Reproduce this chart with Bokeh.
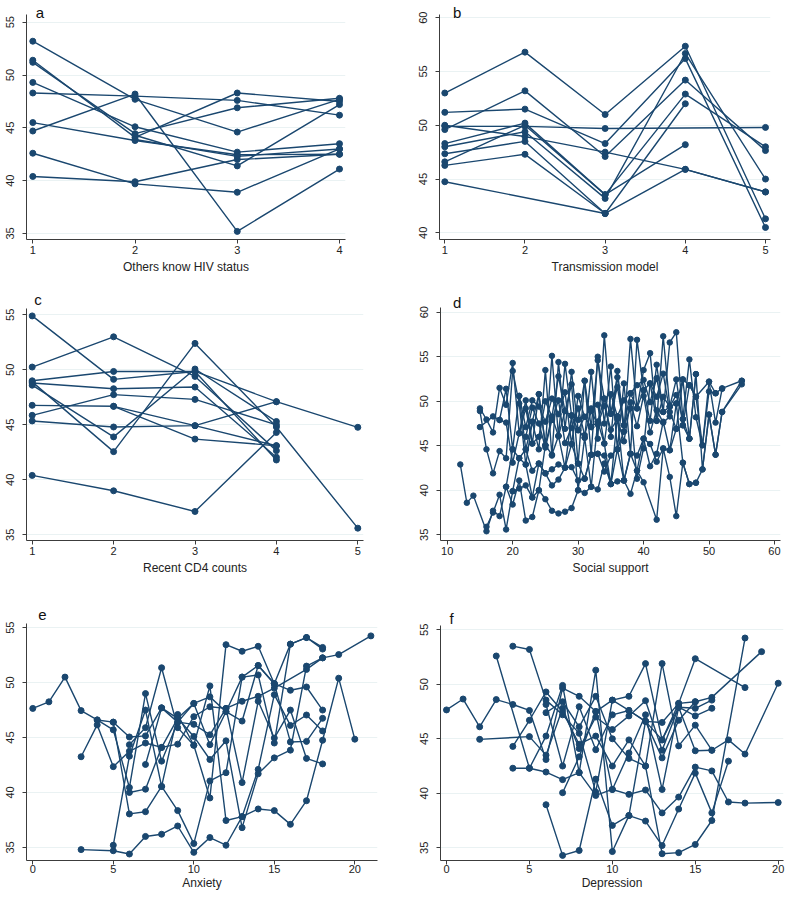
from bokeh.plotting import figure
from bokeh.layouts import column, row
from bokeh.models import FixedTicker, Range1d, ColumnDataSource, Label
from bokeh.embed import file_html
from bokeh.resources import INLINE

LINE = "#1a476f"
GRID = "#eaf2f3"
FONT = "Liberation Sans"

# ---------------- data ----------------
# (a) Others know HIV status
a_xticks = [1, 2, 3, 4]
a_yticks = [35, 40, 45, 50, 55]
a_series = [
    ([1, 2, 3, 4], [53.2, 47.7, 44.6, 47.7]),
    ([1, 2, 3, 4], [51.4, 44.1, 48.3, 47.5]),
    ([1, 2, 3, 4], [51.2, 44.45, 46.9, 47.8]),
    ([1, 2, 3, 4], [49.3, 45.1, 42.7, 43.5]),
    ([1, 2, 3, 4], [48.3, 48.0, 47.6, 46.2]),
    ([1, 2, 3, 4], [45.5, 43.8, 42.46, 42.5]),
    ([1, 2, 3, 4], [44.7, 48.2, 35.2, 41.1]),
    ([1, 2, 3, 4], [42.6, 39.7, 38.9, 43.0]),
    ([1, 2, 3, 4], [40.4, 39.9, 42.0, 42.5]),
    ([2, 3, 4], [44.3, 41.4, 47.2]),
    ([2, 3, 4], [43.9, 42.3, 43.0]),
]

# (b) Transmission model
b_xticks = [1, 2, 3, 4, 5]
b_yticks = [40, 45, 50, 55, 60]
b_series = [
    ([1, 2, 3, 4, 5], [53.0, 56.8, 51.0, 57.35, 41.3]),
    ([1, 2, 3, 4, 5], [51.2, 51.5, 48.3, 56.2, 40.5]),
    ([1, 2, 3, 5], [49.9, 49.9, 49.7, 49.8]),
    ([1, 2, 3, 4, 5], [49.6, 53.2, 47.1, 54.2, 47.65]),
    ([1, 2, 3, 4, 5], [50.0, 48.95, 47.5, 45.9, 43.8]),
    ([1, 2, 3, 4, 5], [48.3, 50.2, 43.55, 52.9, 48.0]),
    ([1, 2, 3, 4, 5], [48.0, 49.4, 43.2, 56.67, 45.0]),
    ([1, 2, 3, 4], [47.35, 48.5, 41.8, 52.0]),
    ([1, 2, 3, 4], [46.6, 50.0, 43.55, 48.2]),
    ([1, 2, 3], [46.27, 47.3, 41.8]),
    ([1, 3, 4, 5], [44.75, 41.8, 45.9, 43.8]),
]

# (c) Recent CD4 counts
c_xticks = [1, 2, 3, 4, 5]
c_yticks = [35, 40, 45, 50, 55]
c_series = [
    ([1, 2, 3, 4], [54.9, 49.13, 49.85, 41.8]),
    ([1, 2, 3, 4], [50.25, 53.0, 49.4, 42.65]),
    ([1, 2, 3, 4, 5], [49.0, 49.85, 49.85, 47.1, 44.77]),
    ([1, 2, 3, 4], [48.8, 48.28, 48.43, 42.05]),
    ([1, 2, 3, 4], [48.6, 43.9, 50.07, 45.3]),
    ([1, 2, 3, 4, 5], [48.9, 42.56, 52.4, 44.8, 35.6]),
    ([1, 2, 3, 4], [46.77, 46.68, 44.92, 43.1]),
    ([1, 2, 3, 4], [45.86, 47.74, 47.31, 45.0]),
    ([1, 2, 3, 4], [45.35, 44.8, 44.92, 47.1]),
    ([1, 2, 3, 4], [40.4, 39.0, 37.12, 44.3]),
    ([2, 3, 4], [46.68, 43.7, 43.1]),
]

# (d) Social support
d_xticks = [10, 20, 30, 40, 50, 60]
d_yticks = [35, 40, 45, 50, 55, 60]
d_series = [
    ([12, 13, 14, 16, 17, 18, 19, 20, 21, 22, 23, 24, 25, 26, 27, 28, 29, 30, 31, 32,
      33, 34, 35, 36, 37, 38, 39, 40, 42, 43, 44, 45, 46, 47, 48, 49, 50, 51, 52, 55],
     [42.9, 38.6, 39.4, 35.4, 37.7, 37.1, 40.4, 38.4, 41.1, 36.6, 37.0, 40.0, 39.0, 37.7, 37.4, 37.6, 38.0, 40.0, 39.7, 40.4,
      40.1, 43.0, 40.7, 41.0, 41.1, 39.6, 42.2, 40.9, 36.7, 44.7, 41.5, 37.1, 43.1, 40.7, 40.85, 42.35, 48.5, 44.0, 48.8, 51.9]),
    ([16, 17, 18, 19, 20, 21, 22, 23, 24, 25, 26, 27, 28, 29, 30, 31, 32, 33, 34, 35,
      36, 37, 38, 39, 40, 41, 42, 43, 44, 45, 46, 47, 48],
     [35.9, 37.5, 39.5, 35.6, 39.9, 40.2, 40.55, 39.2, 43.0, 41.9, 40.55, 41.2, 42.55, 42.6, 41.1, 41.3, 44.0, 44.1, 43.9, 40.7,
      44.6, 41.1, 44.1, 43.9, 45.8, 45.2, 43.2, 44.7, 44.5, 46.9, 47.3, 45.8, 53.05]),
    ([15, 16, 17, 18, 19, 20, 21, 22, 23, 24, 25, 26, 27, 28, 29, 30, 31, 32, 33, 34,
      35, 36, 37, 38, 39, 40, 41, 42, 43, 44, 45, 46, 47, 48, 49, 50, 51, 52, 55],
     [49.2, 47.95, 46.5, 51.5, 49.6, 54.3, 46.4, 50.1, 45.25, 50.8, 45.06, 55.1, 46.1, 54.2, 48.4, 47.9, 52.3, 44.0, 55.0, 47.5,
      53.9, 44.6, 52.0, 44.1, 56.9, 51.25, 47.8, 54.1, 48.8, 56.6, 57.75, 48.0, 54.7, 48.2, 45.06, 52.2, 50.9, 51.45, 52.3]),
    ([15, 16, 17, 18, 19, 20, 21, 22, 23, 24, 25, 26, 27, 28, 29, 30, 31, 32, 33, 34,
      35, 36, 37, 38, 39, 40, 41, 42, 43, 44, 45, 46, 47, 48, 50, 51, 52],
     [48.9, 44.6, 41.9, 44.4, 43.6, 53.4, 49.75, 42.9, 47.7, 44.6, 53.5, 43.9, 54.4, 46.9, 53.3, 46.75, 45.9, 53.3, 45.8, 57.4,
      48.6, 52.7, 46.6, 57.0, 49.2, 53.5, 55.4, 47.8, 57.3, 49.4, 49.75, 52.45, 51.8, 50.5, 52.2, 47.6, 51.4]),
    ([15, 17, 18, 19, 20, 21, 22, 23, 24, 25, 26, 27, 28, 29, 30, 31, 32, 33, 34, 35,
      36, 37, 38, 39, 40, 41, 42, 43, 44, 45, 46, 47, 48, 49, 50, 51],
     [47.1, 48.3, 47.9, 51.4, 44.6, 50.6, 47.1, 50.1, 49.4, 47.7, 50.3, 48.55, 51.0, 45.2, 50.6, 48.25, 49.2, 49.6, 45.25, 50.8,
      48.3, 50.1, 50.9, 51.8, 52.4, 49.9, 52.6, 48.8, 49.4, 52.45, 47.3, 51.8, 50.5, 45.06, 51.1, 50.9]),
    ([18, 19, 20, 21, 22, 23, 24, 25, 26, 27, 28, 29, 30, 31, 32, 33, 34, 35, 36, 37,
      38, 39, 40, 41, 42, 43, 44, 45, 46, 47, 48, 49, 50, 51, 52, 55],
     [47.9, 47.6, 43.1, 46.4, 49.2, 45.25, 46.0, 50.0, 48.25, 52.8, 48.9, 51.9, 43.0, 52.3, 47.1, 54.6, 50.3, 46.0, 53.4, 47.3,
      49.2, 41.3, 44.7, 52.0, 50.5, 53.1, 48.8, 46.9, 52.45, 45.8, 53.05, 42.35, 48.5, 44.0, 48.8, 52.3]),
    ([19, 20, 21, 22, 23, 24, 25, 26, 27, 28, 29, 30, 31, 32, 33, 34, 35, 36, 37],
     [40.4, 44.6, 43.6, 44.6, 42.2, 43.0, 41.9, 42.35, 42.9, 42.55, 45.2, 43.0, 41.3, 44.0, 44.1, 42.1, 43.9, 44.6, 46.6]),
    ([21, 22, 23, 24, 25, 26, 27, 28, 29, 30, 31, 32, 33, 34, 35, 36, 37, 38, 39, 40,
      41, 42, 43, 44, 45, 46, 47],
     [50.6, 44.6, 47.7, 50.8, 45.06, 48.25, 46.1, 48.9, 48.4, 46.75, 48.25, 47.1, 47.7, 50.3, 48.6, 51.6, 47.3, 50.9, 49.2, 51.25,
      52.0, 47.8, 50.5, 49.4, 50.7, 48.0, 45.8]),
    ([20, 21, 22, 23, 24, 25, 26, 27, 28, 29, 30, 31, 32, 33, 34, 35, 36, 37, 38, 39,
      40, 41, 42, 43, 44, 45, 46, 47, 48],
     [39.9, 43.6, 42.9, 39.2, 40.0, 45.06, 44.0, 46.1, 42.55, 48.4, 40.0, 45.9, 40.4, 47.7, 45.25, 40.7, 48.3, 41.1, 44.1, 42.2,
      45.8, 42.7, 44.1, 47.7, 44.5, 49.75, 43.1, 40.7, 40.85]),
    ([22, 23, 24, 25, 26, 27, 28, 29, 30, 31, 32, 33, 34, 35, 36, 37, 38, 39, 40, 41,
      42, 43, 44],
     [46.0, 49.3, 47.5, 44.8, 47.9, 50.1, 45.3, 47.0, 49.2, 46.2, 48.9, 47.4, 49.5, 46.8, 48.0, 45.5, 49.9, 47.2, 50.6, 46.5,
      49.0, 47.6, 48.3]),
]

# (e) Anxiety
e_xticks = [0, 5, 10, 15, 20]
e_yticks = [35, 40, 45, 50, 55]
e_series = [
    ([0, 1, 2, 3, 4, 5, 6, 7, 8, 9, 10, 11, 12, 13, 14, 15, 16, 17, 18],
     [47.65, 48.25, 50.5, 47.45, 46.6, 46.4, 45.05, 45.15, 47.7, 46.75, 48.1, 48.7, 47.35, 50.5, 51.55, 49.9, 53.5, 54.1, 53.05]),
    ([3, 5, 6, 7, 8, 9, 10, 11, 12, 13, 14, 15, 16, 17, 18, 19, 20],
     [34.8, 34.7, 34.4, 36.0, 36.2, 36.95, 34.55, 35.9, 35.2, 37.8, 38.5, 38.35, 37.1, 39.25, 44.75, 50.4, 44.85]),
    ([3, 4, 5, 6, 7, 8, 9, 10, 11, 12, 13, 14, 15, 17, 18, 19, 21],
     [43.25, 46.15, 42.35, 43.75, 44.5, 44.1, 44.4, 46.9, 47.8, 47.65, 48.3, 48.75, 49.5, 51.2, 52.25, 52.55, 54.25]),
    ([4, 5, 6, 7, 8, 9, 10, 11, 12, 13, 14, 15, 16, 17, 18],
     [46.6, 45.7, 40.45, 49.0, 42.85, 46.4, 48.1, 44.35, 47.35, 46.5, 51.55, 49.9, 49.3, 49.6, 47.5]),
    ([5, 6, 7, 8, 9, 10, 11, 12, 13, 14, 15, 16, 17, 18],
     [35.2, 43.3, 47.5, 40.55, 47.1, 44.3, 49.7, 37.45, 37.8, 42.1, 48.9, 46.1, 47.05, 45.6]),
    ([5, 6, 7, 8, 9, 10, 11, 12, 13, 14, 15, 16, 17, 18],
     [46.4, 38.05, 38.25, 40.55, 38.35, 35.35, 41.05, 41.8, 50.5, 50.7, 44.5, 53.5, 54.1, 53.2]),
    ([6, 7, 8, 9, 10, 11, 12, 13, 14, 15, 16, 17, 18],
     [44.35, 45.9, 51.35, 45.9, 44.3, 39.5, 53.45, 52.85, 53.3, 49.9, 44.6, 44.65, 46.75]),
    ([6, 7, 8, 9, 10, 11, 12, 13, 14, 15, 16, 17, 18],
     [40.0, 40.3, 44.1, 46.75, 45.1, 43.0, 44.7, 36.8, 41.7, 43.15, 43.85, 51.5, 52.25]),
    ([7, 8, 9, 10, 11, 12, 13, 14, 15, 16, 17, 18],
     [42.55, 47.7, 46.4, 46.2, 45.25, 47.65, 40.9, 48.3, 44.95, 47.5, 43.1, 42.6]),
]

# (f) Depression
f_xticks = [0, 5, 10, 15, 20]
f_yticks = [35, 40, 45, 50, 55]
f_series = [
    ([0, 1, 2, 3, 4, 5, 6, 7, 8, 9, 10, 11, 12, 13, 14, 15, 16, 19],
     [47.65, 48.65, 46.1, 48.6, 48.15, 47.6, 43.1, 49.65, 48.9, 47.5, 48.55, 47.6, 46.6, 46.5, 48.25, 48.4, 48.8, 53.0]),
    ([2, 5, 6, 7, 8, 9, 10, 11, 12, 13, 14, 15, 16],
     [44.95, 45.2, 43.5, 47.8, 44.1, 47.0, 45.85, 47.1, 48.5, 43.95, 47.9, 47.8, 48.55]),
    ([3, 5, 6, 7, 8, 9, 10, 11, 12, 13, 14, 15, 16],
     [52.6, 42.3, 45.25, 49.9, 41.9, 51.3, 34.65, 37.95, 46.6, 44.9, 47.9, 47.1, 47.8]),
    ([4, 5, 6, 7, 8, 9, 10, 11, 12, 13, 14, 15, 18],
     [53.5, 53.2, 48.55, 47.2, 45.5, 40.1, 48.55, 48.9, 51.9, 44.9, 48.25, 52.35, 49.7]),
    ([4, 5, 6, 7, 8, 9, 10, 11, 12, 13, 14, 15, 16],
     [44.3, 46.7, 49.3, 47.5, 44.5, 45.25, 42.5, 44.9, 42.5, 51.9, 44.35, 46.25, 43.95]),
    ([4, 5, 6, 7, 8, 9, 10, 11, 12, 13, 14, 15, 16, 17, 18, 20],
     [42.3, 42.3, 41.95, 41.25, 41.9, 39.8, 40.35, 39.9, 40.3, 38.2, 39.65, 42.4, 42.05, 39.2, 39.1, 39.15]),
    ([6, 7, 8, 9, 10, 11, 12, 13, 14, 15, 16, 17],
     [38.95, 34.3, 34.75, 41.3, 37.05, 37.95, 37.45, 35.2, 38.55, 41.85, 38.2, 42.95]),
    ([7, 8, 9, 10, 11, 12, 13, 14, 15, 16, 17, 18, 20],
     [40.05, 43.35, 47.5, 40.35, 43.7, 47.2, 40.35, 47.9, 43.9, 43.95, 44.9, 43.6, 50.1]),
    ([6, 7, 8, 9, 10, 11, 12, 13, 14, 15, 16, 18],
     [47.4, 48.4, 46.1, 48.9, 45.0, 43.2, 42.5, 34.45, 34.55, 35.3, 37.5, 54.25]),
    ([6, 7, 8, 9, 10, 11, 12, 13, 14, 15],
     [48.15, 42.5, 47.95, 44.0, 47.2, 47.6, 46.6, 43.25, 46.7, 48.4]),
]


def panel(letter, lpos, xlabel, series, xr, yr, ytop, xt, yt, w, h, borders,
          msize=6.0, tight=False):
    p = figure(width=w, height=h, x_range=Range1d(*xr), y_range=Range1d(*yr),
               output_backend="svg", toolbar_location=None,
               min_border_left=borders[0], min_border_right=borders[1],
               min_border_top=borders[2], min_border_bottom=borders[3])
    p.outline_line_color = None
    p.background_fill_color = "white"
    p.border_fill_color = "white"
    p.xgrid.visible = False
    p.ygrid.grid_line_color = GRID
    p.ygrid.grid_line_width = 1.2
    p.xaxis.ticker = FixedTicker(ticks=xt)
    p.yaxis.ticker = FixedTicker(ticks=yt)
    p.yaxis.bounds = (yr[0], ytop)
    for ax in (p.xaxis[0], p.yaxis[0]):
        ax.axis_line_color = "#3c3c3c"
        ax.axis_line_width = 1
        ax.major_tick_line_color = "#3c3c3c"
        ax.major_tick_out = 4
        ax.major_tick_in = 0
        ax.minor_tick_line_color = None
        ax.major_label_text_font = FONT
        ax.major_label_text_font_size = "11px"
        ax.major_label_text_color = "#222222"
    p.xaxis.major_label_standoff = 0 if tight else 2
    p.yaxis.major_label_orientation = "vertical"
    p.yaxis.major_label_standoff = 8
    p.xaxis.axis_label = xlabel
    p.xaxis.axis_label_text_font = FONT
    p.xaxis.axis_label_text_font_size = "12px"
    p.xaxis.axis_label_text_font_style = "normal"
    p.xaxis.axis_label_text_color = "#222222"
    p.xaxis.axis_label_standoff = 0 if tight else 3
    src = ColumnDataSource(dict(xs=[s[0] for s in series], ys=[s[1] for s in series]))
    p.multi_line("xs", "ys", source=src, line_color=LINE, line_width=1.4)
    px = [x for s in series for x in s[0]]
    py = [y for s in series for y in s[1]]
    p.scatter(px, py, size=msize, color=LINE)
    p.add_layout(Label(x=lpos[0], y=lpos[1], x_units="canvas", y_units="canvas", text=letter,
                       text_font=FONT, text_font_size="15px", text_align="center",
                       text_baseline="alphabetic", text_color="#111111"))
    return p


pa = panel("a", (39.5, 12), "Others know HIV status", a_series, (0.9384, 4.0587), (34.432, 57.054), 55.73,
           a_xticks, a_yticks, 390, 290, (26, 45, 0, 51))
pb = panel("b", (66.7, 12), "Transmission model", b_series, (0.9339, 5.0624), (39.38, 61.60), 60.31,
           b_xticks, b_yticks, 397, 290, (49, 17, 0, 50))
pc = panel("c", (37.5, 9), "Recent CD4 counts", c_series, (0.930, 5.07), (34.48, 57.21), 55.57,
           c_xticks, c_yticks, 390, 300, (26, 27, 0, 50))
pd = panel("d", (66.7, 12.3), "Social support", d_series, (8.976, 60.92), (34.36, 62.44), 60.56,
           d_xticks, d_yticks, 397, 300, (50, 7, 0, 50), msize=5.5)
pe = panel("e", (42, 24), "Anxiety", e_series, (-0.391, 21.41), (33.81, 58.38), 55.42,
           e_xticks, e_yticks, 390, 311, (26, 13, 0, 37), tight=True)
pf = panel("f", (61, 27.5), "Depression", f_series, (-0.362, 20.32), (33.83, 58.61), 55.39,
           f_xticks, f_yticks, 397, 311, (50, 4, 0, 41), tight=True)

layout = column(row(pa, pb), row(pc, pd), row(pe, pf))
open("out.html", "w").write(file_html(layout, INLINE))
